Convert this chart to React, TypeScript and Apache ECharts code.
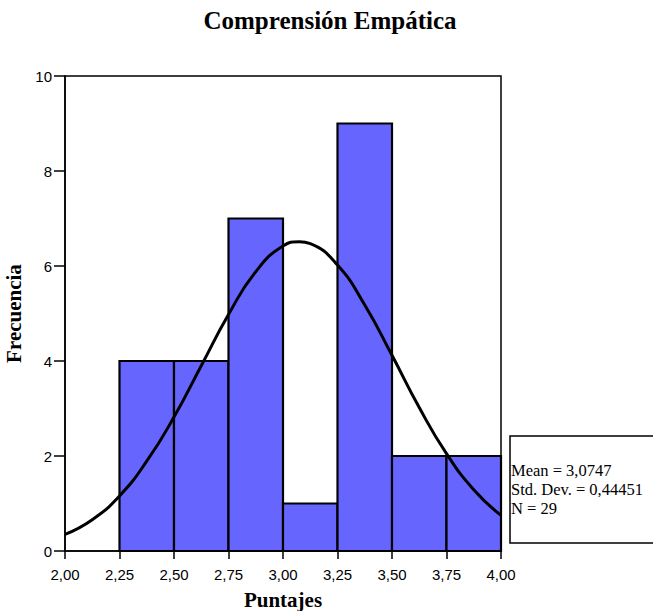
import React, { useEffect, useRef } from "react";
import * as echarts from "echarts";

const binStarts = [2.25, 2.5, 2.75, 3.0, 3.25, 3.5, 3.75];
const binEnds = [2.5, 2.75, 3.0, 3.25, 3.5, 3.75, 4.0];
const counts = [4, 4, 7, 1, 9, 2, 2];

const curveX = [2.0, 2.125, 2.25, 2.375, 2.5, 2.625, 2.75, 2.875, 3.0, 3.0747, 3.125, 3.25, 3.375, 3.5, 3.625, 3.75, 3.875, 4.0];
const curveY = [0.35, 0.66, 1.16, 1.89, 2.82, 3.9, 4.98, 5.88, 6.42, 6.51, 6.47, 6.02, 5.18, 4.12, 3.02, 2.05, 1.29, 0.75];

const statsLines = ["Mean = 3,0747", "Std. Dev. = 0,44451", "N = 29"];

const SERIF = "'Liberation Serif', 'Times New Roman', serif";

export default function App() {
  const ref = useRef<HTMLDivElement>(null);
  useEffect(() => {
    if (!ref.current) return;
    const chart = echarts.init(ref.current, null, { renderer: "svg" });
    const barData = binStarts.map((s, i) => [s, binEnds[i], counts[i]]);
    const lineData = curveX.map((x, i) => [x, curveY[i]]);
    chart.setOption({
      animation: false,
      backgroundColor: "#fff",
      grid: {
        left: 65,
        right: 152,
        top: 76,
        bottom: 60,
        outerBoundsMode: "none",
        containLabel: false,
        show: true,
        borderColor: "#000",
        borderWidth: 1.5,
      },
      xAxis: {
        type: "value",
        min: 2,
        max: 4,
        interval: 0.25,
        splitLine: { show: false },
        axisLine: { show: true, onZero: false, lineStyle: { color: "#000", width: 1.5 } },
        axisTick: { show: true, length: 8, lineStyle: { color: "#000", width: 1.5 } },
        axisLabel: {
          color: "#000",
          fontFamily: "Liberation Sans, Arial, sans-serif",
          fontSize: 15,
          margin: 16,
          formatter: (v: number) => v.toFixed(2).replace(".", ","),
        },
        name: "Puntajes",
        nameLocation: "middle",
        nameGap: 38,
        nameTextStyle: {
          color: "#000",
          fontFamily: SERIF,
          fontWeight: "bold",
          fontSize: 21,
        },
      },
      yAxis: {
        type: "value",
        min: 0,
        max: 10,
        interval: 2,
        splitLine: { show: false },
        axisLine: { show: true, lineStyle: { color: "#000", width: 1.5 } },
        axisTick: { show: true, length: 11, lineStyle: { color: "#000", width: 1.5 } },
        axisLabel: {
          color: "#000",
          fontFamily: "Liberation Sans, Arial, sans-serif",
          fontSize: 15,
          margin: 13,
        },
        name: "Frecuencia",
        nameLocation: "middle",
        nameGap: 34,
        nameTextStyle: {
          color: "#000",
          fontFamily: SERIF,
          fontWeight: "bold",
          fontSize: 21,
        },
      },
      series: [
        {
          type: "custom",
          data: barData,
          renderItem: (params: any, api: any) => {
            const p0 = api.coord([api.value(0), 0]);
            const p1 = api.coord([api.value(1), api.value(2)]);
            return {
              type: "rect",
              shape: { x: p0[0], y: p1[1], width: p1[0] - p0[0], height: p0[1] - p1[1] },
              style: { fill: "#6666ff", stroke: "#000", lineWidth: 2.2 },
            };
          },
          z: 2,
        },
        {
          type: "line",
          data: lineData,
          smooth: true,
          symbol: "none",
          lineStyle: { color: "#000", width: 3 },
          z: 3,
        },
      ],
      graphic: [
        {
          type: "text",
          x: 330,
          y: 20,
          style: {
            text: "Comprensión Empática",
            fill: "#000",
            fontFamily: SERIF,
            fontWeight: "bold",
            fontSize: 25,
            textAlign: "center",
            textVerticalAlign: "middle",
          },
        },
        {
          type: "rect",
          shape: { x: 510, y: 436, width: 160, height: 107 },
          style: { fill: "#fff", stroke: "#000", lineWidth: 1.5 },
        },
        ...statsLines.map((t, i) => ({
          type: "text",
          x: 511,
          y: 470 + i * 19,
          style: {
            text: t,
            fill: "#000",
            fontFamily: SERIF,
            fontSize: 16.5,
            textVerticalAlign: "middle",
          },
        })),
      ],
    });
    return () => chart.dispose();
  }, []);
  return (
    <div
      ref={ref}
      style={{ position: "absolute", left: 0, top: 0, width: 653, height: 611 }}
    />
  );
}
